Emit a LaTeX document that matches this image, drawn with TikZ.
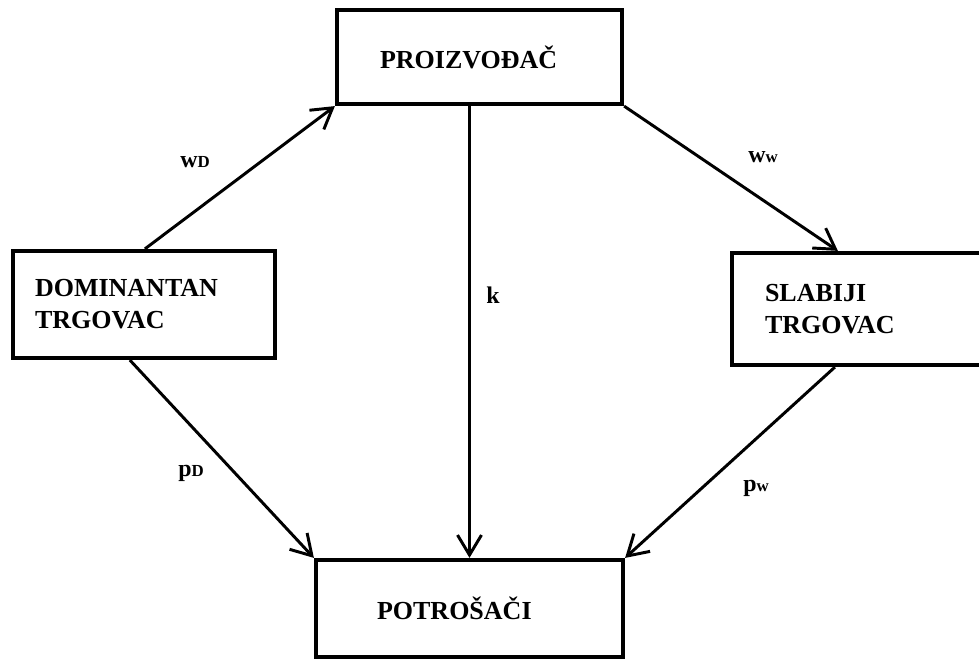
\documentclass[tikz,border=0pt]{standalone}
\usepackage{fontspec}
\setmainfont{Liberation Serif}
\usetikzlibrary{arrows.meta,calc}
\newcommand{\lab}[1]{{\fontsize{12}{12}\selectfont #1}}

\begin{document}
\begin{tikzpicture}[
    box/.style={draw, line width=3pt, align=left, font=\bfseries\fontsize{18.5}{22.8}\selectfont},
    flow/.style={line width=2.1pt, -{Straight Barb[length=0.5cm, width=0.6cm]}},
    lbl/.style={font=\bfseries\fontsize{17}{17}\selectfont}]

    \useasboundingbox (0,0) rectangle (24.475,16.45);

    \node[box, minimum height=2.35cm, text width=4.975cm, inner xsep=1.075cm] (P) at (11.9875,15.025) {PROIZVOĐAČ};
    \node[box, minimum height=2.675cm, text width=5.45cm, inner xsep=0.55cm] (D) at (3.6,8.8375) {DOMINANTAN\\TRGOVAC};
    \node[box, minimum height=2.8cm, text width=4.675cm, inner xsep=0.825cm] (S) at (21.4625,8.725) {SLABIJI\\TRGOVAC};
    \node[box, minimum height=2.425cm, text width=4.625cm, inner xsep=1.525cm] (T) at (11.7375,1.2375) {POTROŠAČI};

    \draw[flow] ([xshift=3.35cm]D.north west) -- (P.south west);
    \draw[flow] (P.south east) -- ([xshift=2.7cm]S.north west);
    \draw[flow] (P.south -| T.north) -- (T.north);
    \draw[flow] ([xshift=2.975cm]D.south west) -- (T.north west);
    \draw[flow] ([xshift=2.625cm]S.south west) -- (T.north east);

    \node[lbl] (wd) at (4.875,12.4) {w\lab{D}};
    \node[lbl] (ww) at (19.075,12.525) {w\lab{w}};
    \node[lbl] (k) at (12.325,9.075) {k};
    \node[lbl] (pd) at (4.775,4.625) {p\lab{D}};
    \node[lbl] (pw) at (18.9,4.25) {p\lab{w}};

\end{tikzpicture}
\end{document}
